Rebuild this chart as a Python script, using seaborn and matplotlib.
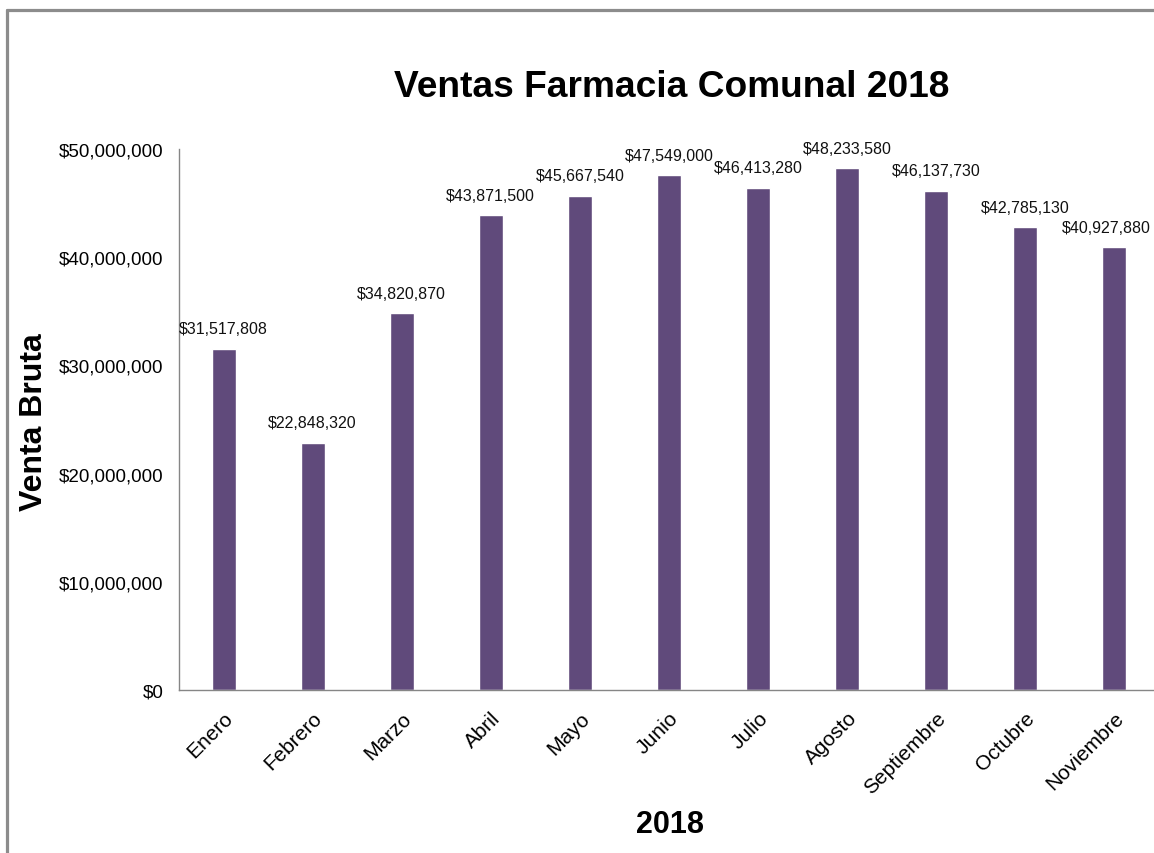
import matplotlib.pyplot as plt
import matplotlib.ticker as mticker
from matplotlib.lines import Line2D
import seaborn as sns
import pandas as pd

meses = ["Enero", "Febrero", "Marzo", "Abril", "Mayo", "Junio", "Julio",
         "Agosto", "Septiembre", "Octubre", "Noviembre"]
ventas = [31517808, 22848320, 34820870, 43871500, 45667540, 47549000,
          46413280, 48233580, 46137730, 42785130, 40927880]

df = pd.DataFrame({"mes": meses, "venta": ventas})

sns.set_style("white")
plt.rcParams["font.family"] = ["Liberation Sans", "DejaVu Sans"]
plt.rcParams["text.color"] = "black"
plt.rcParams["axes.labelcolor"] = "black"
plt.rcParams["xtick.labelcolor"] = "black"
plt.rcParams["ytick.labelcolor"] = "black"

fig = plt.figure(figsize=(11.54, 8.54), dpi=100)
ax = fig.add_axes([0.1551, 0.1909, 0.8492, 0.6335])

sns.barplot(data=df, x="mes", y="venta", color="#604A7B", width=0.27,
            saturation=1, ax=ax)

ax.set_xlim(-0.5, len(meses) - 0.5)
ax.set_ylim(0, 50000000)
ax.set_yticks(range(0, 50000001, 10000000))
ax.yaxis.set_major_formatter(mticker.FuncFormatter(lambda v, p: f"${v:,.0f}"))

# etiquetas de valor sobre cada barra
for i, v in enumerate(df["venta"]):
    dx = -6 if i == len(meses) - 1 else 0
    ax.annotate(f"${v:,.0f}", (i, v), xytext=(dx, 9), textcoords="offset points",
                ha="center", va="bottom", fontsize=11.5, color="#111111")

# ticks del eje x entre categorias
ax.set_xticks([i - 0.5 for i in range(len(meses) + 1)], minor=True)
ax.tick_params(axis="x", which="major", length=0, pad=13, labelsize=15)
ax.tick_params(axis="x", which="minor", length=5, width=1, color="#868686", direction="out")
ax.tick_params(axis="y", length=6, width=1, color="#868686", direction="out", pad=5, labelsize=13.5)
ax.set_xticklabels(meses, rotation=45, ha="right", rotation_mode="anchor")

for s in ["top", "right"]:
    ax.spines[s].set_visible(False)
for s in ["left", "bottom"]:
    ax.spines[s].set_color("#868686")
    ax.spines[s].set_linewidth(1)

ax.set_title("Ventas Farmacia Comunal 2018", fontsize=26.7, fontweight="bold", pad=38, x=0.503)
ax.set_ylabel("Venta Bruta", fontsize=23, fontweight="bold", va="center")
ax.yaxis.set_label_coords(-0.148, 0.497)
ax.set_xlabel("2018", fontsize=22, fontweight="bold", va="center")
ax.xaxis.set_label_coords(0.501, -0.248)

# marco gris del grafico
fig.add_artist(Line2D([7 / 1154, 7 / 1154], [0, 1 - 11 / 854], color="#8c8c8c", lw=2.3,
                      transform=fig.transFigure))
fig.add_artist(Line2D([7 / 1154, 1], [1 - 11 / 854, 1 - 11 / 854], color="#8c8c8c", lw=2.3,
                      transform=fig.transFigure))

plt.savefig("out.png", dpi=100)
